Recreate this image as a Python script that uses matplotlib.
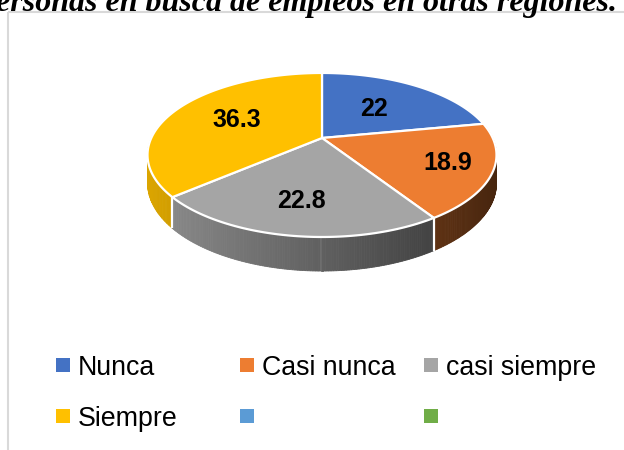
import numpy as np
import matplotlib
matplotlib.use('Agg')
import matplotlib.pyplot as plt
from matplotlib.patches import Polygon, Rectangle
from matplotlib import font_manager
from matplotlib.colors import to_rgb

# ---- data ----
categories = ['Nunca', 'Casi nunca', 'casi siempre', 'Siempre']
values = [22, 18.9, 22.8, 36.3]
value_labels = ['22', '18.9', '22.8', '36.3']
colors = ['#4472C4', '#ED7D31', '#A5A5A5', '#FFC000']
extra_legend_colors = ['#5B9BD5', '#70AD47']
title = 'personas en busca de empleos en otras regiones.'

available = {f.name for f in font_manager.fontManager.ttflist}
narrow = 'Liberation Sans Narrow' in available
legend_font = 'Liberation Sans Narrow' if narrow else 'Liberation Sans'
legend_size = 21 if narrow else 19.3

fig = plt.figure(figsize=(6.24, 4.5), dpi=100)
ax = fig.add_axes([0, 0, 1, 1])
ax.set_xlim(0, 624)
ax.set_ylim(450, 0)
ax.axis('off')

# chart frame
ax.add_patch(Rectangle((8, 12), 700, 500, fill=False, edgecolor='#d9d9d9', lw=1.5))

# title (cut at top as in the reference)
ax.text(617, 11, title, ha='right', va='baseline', fontsize=23,
        family='Liberation Serif', fontweight='bold', fontstyle='italic', color='black')

# ---- 3D pie geometry ----
CX, CY, A, B, K, H = 322, 138, 170.7, 78.5, 0.207, 27


def proj(phi_deg, depth=0.0, r=1.0):
    p = np.radians(phi_deg)
    X = r * np.sin(p)
    Z = -r * np.cos(p)
    s = 1.0 / (1.0 - K * Z)
    s1 = 1.0 / (1.0 - K * (-np.cos(p)))
    return CX + A * X * s, CY + B * Z * s + H * depth * s1


total = float(sum(values))
bounds = np.concatenate([[0.0], np.cumsum(values) / total * 360.0])


def shade(col, x):
    f = 0.86 - 0.56 * (x - 148) / 349.0
    f = np.clip(f, 0.25, 1.0)
    r, g, b = to_rgb(col)
    return (r * f, g * f, b * f)


# sides
quads = []
for i, col in enumerate(colors):
    phis = np.linspace(bounds[i], bounds[i + 1], 120)
    for p0, p1 in zip(phis[:-1], phis[1:]):
        zm = -np.cos(np.radians((p0 + p1) / 2))
        if zm < -0.15:
            continue
        t0 = proj(p0); t1 = proj(p1)
        b1 = proj(p1, 1); b0 = proj(p0, 1)
        xm = (t0[0] + t1[0]) / 2
        quads.append((zm, [t0, t1, b1, b0], shade(col, xm)))
quads.sort(key=lambda q: q[0])
for zm, pts, c in quads:
    ax.add_patch(Polygon(pts, closed=True, facecolor=c, edgecolor=c, lw=0.6))

# white separators on sides
for bnd in bounds[:-1]:
    if -np.cos(np.radians(bnd)) > 0.2:
        t = proj(bnd); b = proj(bnd, 1)
        ax.plot([t[0], b[0]], [t[1], b[1]], color='white', lw=1.6, solid_capstyle='butt')

# top faces
for i, col in enumerate(colors):
    phis = np.linspace(bounds[i], bounds[i + 1], 200)
    pts = [(CX, CY)] + [proj(p) for p in phis]
    ax.add_patch(Polygon(pts, closed=True, facecolor=col, edgecolor='white',
                         lw=1.6, joinstyle='round'))

# value labels
label_r = [0.52, 0.75, 0.70, 0.58]
for i, lab in enumerate(value_labels):
    mid = (bounds[i] + bounds[i + 1]) / 2
    x, y = proj(mid, 0, label_r[i])
    ax.text(x, y, lab, ha='center', va='center', fontsize=18,
            family='Liberation Sans', fontweight='bold', color='black')

# ---- legend (Excel-style fixed grid) ----
legend_items = list(zip(categories, colors)) + [('', c) for c in extra_legend_colors]
col_x = [56, 240, 424]
row_y = [365, 416]
sq = 14
for j, (lab, col) in enumerate(legend_items):
    r, c = divmod(j, 3)
    x0, yc = col_x[c], row_y[r]
    ax.add_patch(Rectangle((x0, yc - sq / 2), sq, sq, facecolor=col, edgecolor='none'))
    if lab:
        ax.text(x0 + sq + 8, yc + 10, lab, ha='left', va='baseline', fontsize=legend_size,
                family=legend_font, color='black')

fig.savefig('out.png', dpi=100)
